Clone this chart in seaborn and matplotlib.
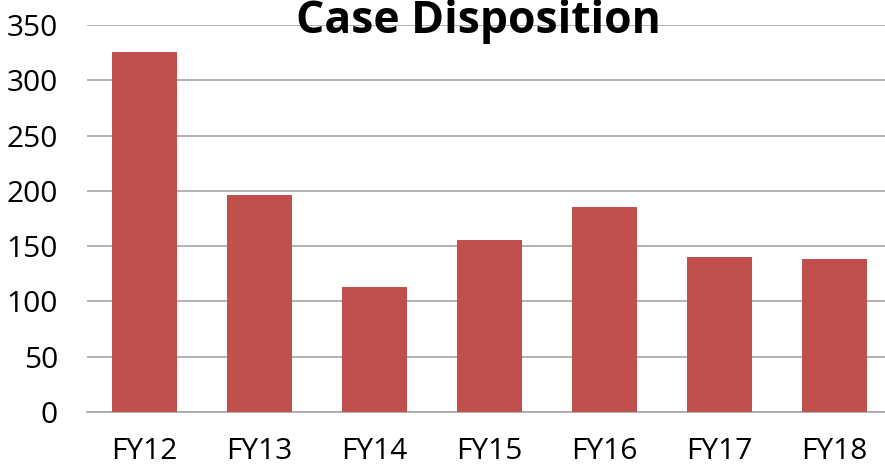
import matplotlib
matplotlib.use("Agg")
import matplotlib.pyplot as plt
import seaborn as sns
import pandas as pd

categories = ["FY12", "FY13", "FY14", "FY15", "FY16", "FY17", "FY18"]
values = [326, 196, 113, 156, 185, 140, 138]
yticks = [0, 50, 100, 150, 200, 250, 300, 350]

sns.set_style("white")
plt.rcParams['font.family'] = ['Open Sans', 'DejaVu Sans']

df = pd.DataFrame({"year": categories, "cases": values})

W, H = 885, 468
fig = plt.figure(figsize=(W/100, H/100), dpi=100)
ax = fig.add_axes([87/W, 1 - 412/H, 1 - 87/W, (412-25)/H])

sns.barplot(data=df, x="year", y="cases", color="#C0504D", width=0.57,
            saturation=1, linewidth=0, ax=ax, zorder=3)
ax.set_ylim(0, 350)
ax.set_xlim(-0.5, 6.44)
ax.set_yticks(yticks)
ax.set_yticklabels([str(t) for t in yticks])
ax.yaxis.grid(True, color="#A6A6A6", linewidth=1.2, zorder=0)
ax.set_axisbelow(True)
for s in ["left", "right", "top"]:
    ax.spines[s].set_visible(False)
ax.spines["bottom"].set_color("#A6A6A6")
ax.spines["bottom"].set_linewidth(1.2)
ax.tick_params(axis="y", labelsize=21.5, pad=21, length=0, colors="black")
ax.tick_params(axis="x", labelsize=21.5, pad=18, length=0, colors="black")
ax.set_xlabel("")
ax.set_ylabel("")

fig.text(478/W, 1 - 33/H, "Case Disposition", ha="center", va="baseline",
         fontsize=32, fontweight="bold", color="black")

fig.savefig("out.png", dpi=100)
